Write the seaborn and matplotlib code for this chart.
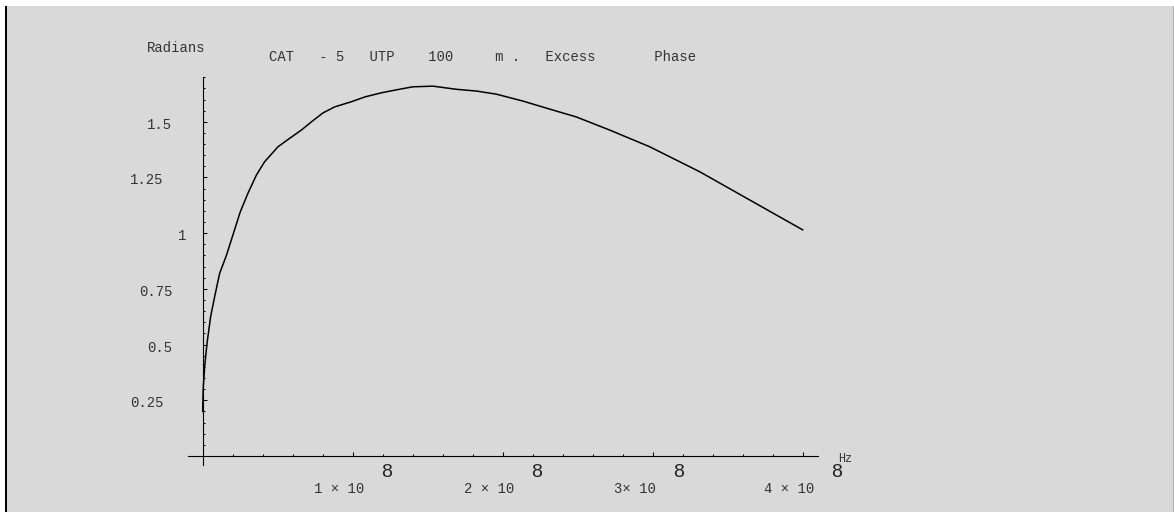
import matplotlib
matplotlib.use("Agg")
import matplotlib.pyplot as plt
import matplotlib.patches as mpatches
import numpy as np
import pandas as pd
import seaborn as sns

# ---- data (frequency in units of 1e8 Hz, excess phase in radians) ----
freq_1e8 = [0.0, 0.003, 0.013, 0.029, 0.053, 0.08, 0.113, 0.158, 0.25, 0.302,
            0.358, 0.413, 0.502, 0.58, 0.658, 0.725, 0.802, 0.88, 0.991, 1.083,
            1.19, 1.28, 1.40, 1.535, 1.69, 1.825, 1.958, 2.135, 2.313, 2.49,
            2.713, 2.98, 3.313, 3.647, 4.0]
phase_rad = [0.20, 0.30, 0.40, 0.507, 0.626, 0.716, 0.82, 0.90, 1.095, 1.18,
             1.261, 1.321, 1.388, 1.426, 1.463, 1.50, 1.54, 1.567, 1.59, 1.612,
             1.63, 1.642, 1.657, 1.66, 1.646, 1.638, 1.624, 1.593, 1.557, 1.522,
             1.463, 1.388, 1.276, 1.149, 1.015]

y_major = [0.25, 0.5, 0.75, 1.0, 1.25, 1.5]
y_labels = ["0.25", "0.5", "0.75", "1", "1.25", "1.5"]
x_major = [1, 2, 3, 4]
x_labels = ["1 × 10", "2 × 10", "3× 10", "4 × 10"]
x_exponent = "8"
title = "CAT   - 5   UTP    100     m .   Excess       Phase"
y_title = "Radians"
x_unit = "Hz"

# ---- figure ----
W, H = 1174, 518
fig = plt.figure(figsize=(W / 100, H / 100), dpi=100, facecolor="white")

def fx(x):
    return x / W

def fy(y):
    return 1 - y / H

# frame background
bg = "#d9d9d9"
fig.patches.append(mpatches.Rectangle((fx(7), fy(512)), fx(1166), (512 - 6) / H,
                                      transform=fig.transFigure, facecolor=bg,
                                      edgecolor="none", zorder=-10))
fig.patches.append(mpatches.Rectangle((fx(5), fy(512)), fx(2.2), (512 - 6) / H,
                                      transform=fig.transFigure, facecolor="black",
                                      edgecolor="none", zorder=-9))
fig.patches.append(mpatches.Rectangle((fx(1172.5), fy(512)), fx(1), (512 - 6) / H,
                                      transform=fig.transFigure, facecolor="#b0b0b0",
                                      edgecolor="none", zorder=-9))

# axes geometry: x px = 202.7 + 150*X ; y px = 456 - 222.8*Y
xlim = (-0.2, 4.3)
ylim = (-0.1, 1.8)
x0px, sx = 202.7, 150.0
y0px, sy = 456.0, 222.8
left_px = x0px + sx * xlim[0]
right_px = x0px + sx * xlim[1]
bot_px = y0px - sy * ylim[0]
top_px = y0px - sy * ylim[1]
ax = fig.add_axes([fx(left_px), fy(bot_px), (right_px - left_px) / W, (bot_px - top_px) / H])
ax.set_facecolor("none")
ax.set_zorder(1)
ax.set_xlim(*xlim)
ax.set_ylim(*ylim)

df = pd.DataFrame({"freq": freq_1e8, "phase": phase_rad})
sns.lineplot(data=df, x="freq", y="phase", ax=ax, color="black", linewidth=1.1,
             sort=False, estimator=None)
ax.set_xlabel("")
ax.set_ylabel("")

# axes lines through origin
for s in ["top", "right"]:
    ax.spines[s].set_visible(False)
ax.spines["left"].set_position(("data", 0))
ax.spines["bottom"].set_position(("data", 0))
ax.spines["left"].set_bounds(-0.04, 1.70)
ax.spines["bottom"].set_bounds(-0.1, 4.1)
for s in ["left", "bottom"]:
    ax.spines[s].set_linewidth(0.8)
    ax.spines[s].set_color("black")

ax.set_yticks(y_major)
ax.set_yticks([v for v in np.round(np.arange(0.05, 1.7001, 0.05), 2)
               if v not in y_major], minor=True)
ax.set_xticks(x_major)
ax.set_xticks([v for v in np.round(np.arange(0.2, 4.001, 0.2), 1)
               if v not in x_major], minor=True)
ax.set_xticklabels([])
ax.set_yticklabels([])
ax.tick_params(which="major", direction="in", length=2.6, width=0.75, color="black")
ax.tick_params(which="minor", direction="in", length=1.7, width=0.75, color="black")

mono = "Liberation Mono"
tcol = "#333333"

# y tick labels (Mathematica-style placement)
y_label_dx = [-39.0, -30.5, -30.5, -16.5, -39.0, -30.5]
for v, lab, dx in zip(y_major, y_labels, y_label_dx):
    ax.annotate(lab, xy=(0, v), xycoords="data", xytext=(dx, -3),
                textcoords="offset pixels", ha="right", va="center",
                family=mono, fontsize=10, color=tcol, annotation_clip=False)

# x tick labels with the detached exponent
for v, lab in zip(x_major, x_labels):
    t = ax.annotate(lab, xy=(v, 0), xycoords="data", xytext=(-38.5, -33),
                    textcoords="offset pixels", ha="left", va="center",
                    family=mono, fontsize=10, color=tcol, annotation_clip=False)
    ax.annotate(x_exponent, xy=(1, 0.5), xycoords=t, xytext=(22.0, 16),
                textcoords="offset pixels", ha="center", va="center",
                family="Liberation Sans", fontsize=14, color="#222222",
                annotation_clip=False)

# unit / titles
fig.text(fx(838), fy(459), x_unit, family=mono, fontsize=8.5, color=tcol,
         ha="left", va="center")
fig.text(fx(176), fy(47.7), y_title, family=mono, fontsize=10, color=tcol,
         ha="center", va="center")
fig.text(fx(269), fy(57), title, family=mono, fontsize=10, color=tcol,
         ha="left", va="center")

fig.savefig("out.png", dpi=100, facecolor="white")
